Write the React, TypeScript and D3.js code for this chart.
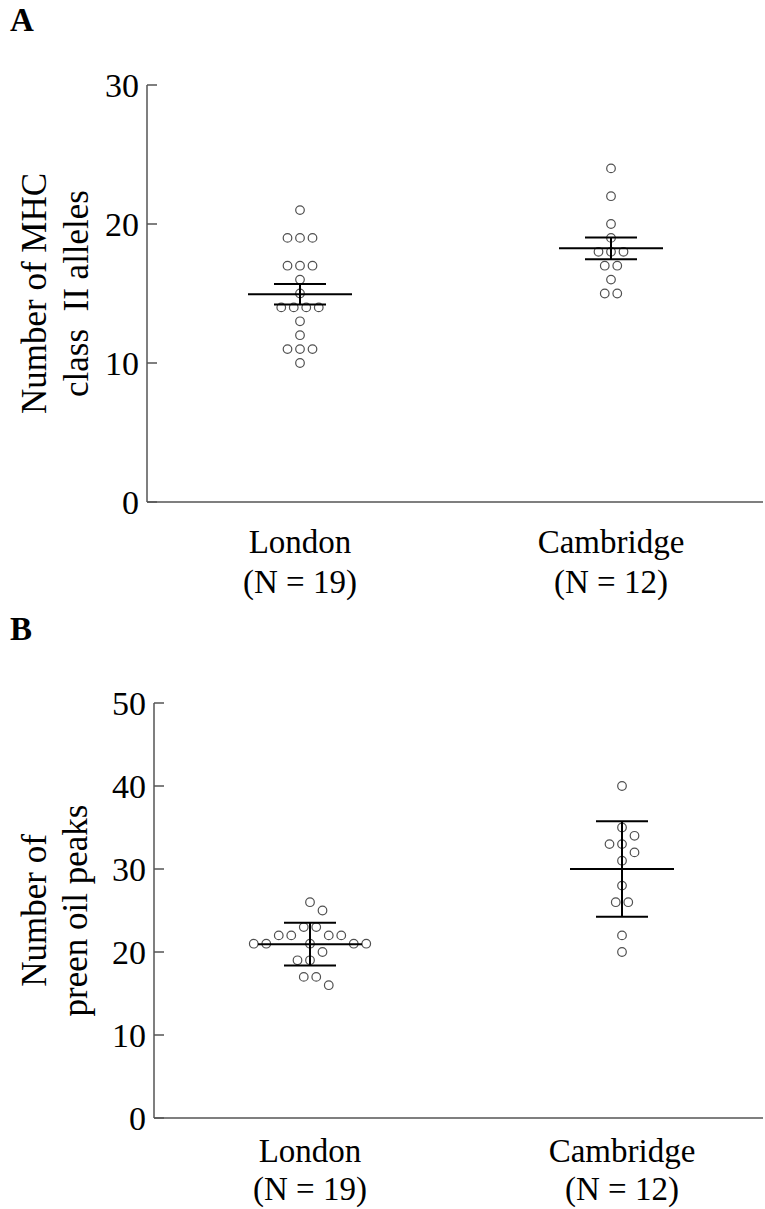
import React from "react";
import * as d3 from "d3";

// values
const categories = ["London", "Cambridge"];
const sampleLabels = ["(N = 19)", "(N = 12)"];

const mhcLondon = [21, 19, 19, 19, 17, 17, 17, 16, 15, 14, 14, 14, 14, 13, 12, 11, 11, 11, 10];
const mhcCambridge = [24, 22, 20, 19, 18, 18, 18, 17, 17, 16, 15, 15];
const mhcTicks = [0, 10, 20, 30];

const preenLondon = [26, 25, 23, 23, 22, 22, 22, 22, 21, 21, 21, 21, 21, 20, 19, 19, 17, 17, 16];
const preenCambridge = [40, 35, 34, 33, 33, 32, 31, 28, 26, 26, 22, 20];
const preenTicks = [0, 10, 20, 30, 40, 50];

const FONT = "'Liberation Serif', 'Times New Roman', serif";
const AXIS = "#555";

type Pt = { x: number; y: number };

// rows of equal values are centred; when a row touches its neighbours,
// its points are pushed sideways one by one in half steps
function dodge(values: number[], y: d3.ScaleLinear<number, number>, step = 12.5, minDist = 11): Pt[] {
  const rows = d3.groups(values, (v) => v).sort((a, b) => b[0] - a[0]);
  const placed: Pt[] = [];
  const free = (ox: number, oy: number) => placed.every((p) => Math.hypot(p.x - ox, p.y - oy) >= minDist);
  const half = step / 2;
  for (const [v, arr] of rows) {
    const yy = y(v);
    const n = arr.length;
    const base = arr.map((_, i) => (i - (n - 1) / 2) * step);
    if (base.every((ox) => free(ox, yy))) {
      base.forEach((ox) => placed.push({ x: ox, y: yy }));
      continue;
    }
    arr.forEach(() => {
      for (let k = 0; k < 40; k++) {
        const cands = k === 0 ? [0] : [k * half, -k * half];
        const hit = cands.find((ox) => free(ox, yy));
        if (hit !== undefined) {
          placed.push({ x: hit, y: yy });
          return;
        }
      }
    });
  }
  return placed;
}

type PanelProps = {
  letter: string;
  letterY: number;
  top: number;
  bottom: number;
  axisX: number;
  groupX: number[];
  max: number;
  ticks: number[];
  series: number[][];
  errorKind: "sem" | "sd";
  labelLines: string[];
  labelX: number[];
  catY: number[];
};

function Panel(p: PanelProps) {
  const y = d3.scaleLinear().domain([0, p.max]).range([p.bottom, p.top]);
  const x = d3.scalePoint<string>().domain(categories).range([p.groupX[0], p.groupX[1]]);
  const midY = (p.top + p.bottom) / 2;

  return (
    <g>
      <text x={10} y={p.letterY} fontFamily={FONT} fontWeight="bold" fontSize={33}>
        {p.letter}
      </text>

      {/* axes */}
      <line x1={p.axisX} x2={p.axisX} y1={p.top} y2={p.bottom} stroke={AXIS} strokeWidth={1.5} />
      <line x1={p.axisX} x2={763} y1={p.bottom} y2={p.bottom} stroke={AXIS} strokeWidth={1.5} />
      {p.ticks.map((t) => (
        <g key={t}>
          <line x1={p.axisX} x2={p.axisX + 10} y1={y(t)} y2={y(t)} stroke={AXIS} strokeWidth={1.5} />
          <text
            x={p.axisX - 8}
            y={y(t)}
            dy="0.34em"
            textAnchor="end"
            fontFamily={FONT}
            fontSize={34}
            fill="#000"
          >
            {t}
          </text>
        </g>
      ))}

      {/* y label */}
      {p.labelLines.map((l, i) => (
        <text
          key={l}
          transform={`translate(${p.labelX[i]},${midY}) rotate(-90)`}
          textAnchor="middle"
          fontFamily={FONT}
          fontSize={35}
          fill="#000"
          style={{ whiteSpace: "pre" }}
        >
          {l}
        </text>
      ))}

      {/* category labels */}
      {categories.map((c, i) => (
        <g key={c}>
          <text x={x(c)} y={p.catY[0]} textAnchor="middle" fontFamily={FONT} fontSize={33}>
            {c}
          </text>
          <text x={x(c)} y={p.catY[1]} textAnchor="middle" fontFamily={FONT} fontSize={33}>
            {sampleLabels[i]}
          </text>
        </g>
      ))}

      {/* points, mean and error bars */}
      {categories.map((c, i) => {
        const vals = p.series[i];
        const cx = x(c) as number;
        const m = d3.mean(vals) as number;
        const sd = d3.deviation(vals) as number;
        const err = p.errorKind === "sem" ? sd / Math.sqrt(vals.length) : sd;
        const pts = dodge(vals, y);
        return (
          <g key={c}>
            {pts.map((pt, j) => (
              <circle key={j} cx={cx + pt.x} cy={pt.y} r={4.3} fill="none" stroke="#505050" strokeWidth={1.2} />
            ))}
            <line x1={cx} x2={cx} y1={y(m + err)} y2={y(m - err)} stroke="#000" strokeWidth={2} />
            <line x1={cx - 26} x2={cx + 26} y1={y(m + err)} y2={y(m + err)} stroke="#000" strokeWidth={2} />
            <line x1={cx - 26} x2={cx + 26} y1={y(m - err)} y2={y(m - err)} stroke="#000" strokeWidth={2} />
            <line x1={cx - 52} x2={cx + 52} y1={y(m)} y2={y(m)} stroke="#000" strokeWidth={2} />
          </g>
        );
      })}
    </g>
  );
}

export default function App() {
  return (
    <svg
      width={765}
      height={1209}
      style={{ position: "absolute", left: 0, top: 0, background: "#fff" }}
    >
      <rect width={765} height={1209} fill="#fff" />
      <Panel
        letter="A"
        letterY={31}
        top={85}
        bottom={502}
        axisX={147}
        groupX={[300, 611]}
        max={30}
        ticks={mhcTicks}
        series={[mhcLondon, mhcCambridge]}
        errorKind="sem"
        labelLines={["Number of MHC", "class  II alleles"]}
        labelX={[46, 88]}
        catY={[553, 593]}
      />
      <Panel
        letter="B"
        letterY={640}
        top={703}
        bottom={1118}
        axisX={154}
        groupX={[310, 622]}
        max={50}
        ticks={preenTicks}
        series={[preenLondon, preenCambridge]}
        errorKind="sd"
        labelLines={["Number of", "preen oil peaks"]}
        labelX={[46, 87]}
        catY={[1162, 1200]}
      />
    </svg>
  );
}
